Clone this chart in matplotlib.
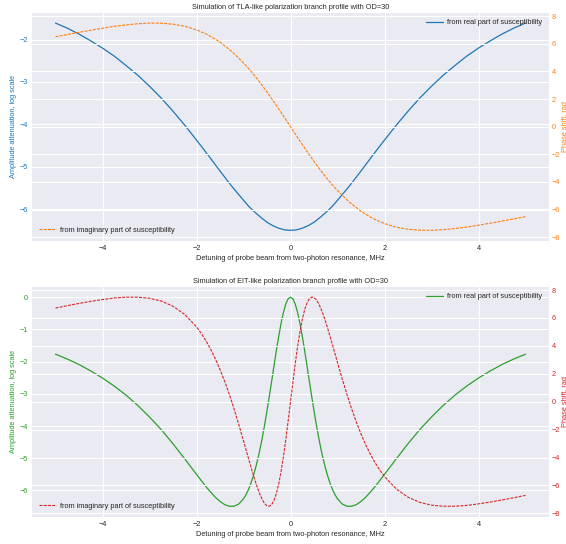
import matplotlib
matplotlib.use("Agg")
import matplotlib.pyplot as plt

# ---------------- data: TLA-like (top) ----------------
x_tla = [-5.0, -4.75, -4.5, -4.25, -4.0, -3.75, -3.5, -3.25, -3.0, -2.75, -2.5,
         -2.25, -2.0, -1.75, -1.5, -1.25, -1.0, -0.875, -0.75, -0.625, -0.5,
         -0.375, -0.25, -0.125, 0.0, 0.125, 0.25, 0.375, 0.5, 0.625, 0.75,
         0.875, 1.0, 1.25, 1.5, 1.75, 2.0, 2.25, 2.5,
         2.75, 3.0, 3.25, 3.5, 3.75, 4.0, 4.25, 4.5, 4.75, 5.0]
atten_tla = [-1.61, -1.73, -1.87, -2.03, -2.20, -2.39, -2.61, -2.84, -3.10, -3.38, -3.69,
             -4.02, -4.37, -4.73, -5.10, -5.46, -5.79, -5.95, -6.08, -6.20, -6.31,
             -6.39, -6.45, -6.49, -6.50, -6.49, -6.45, -6.39, -6.31, -6.20, -6.08,
             -5.95, -5.79, -5.46, -5.10, -4.73, -4.37, -4.02, -3.69,
             -3.38, -3.10, -2.84, -2.61, -2.39, -2.20, -2.03, -1.87, -1.73, -1.61]
phase_tla = [6.51, 6.67, 6.83, 6.98, 7.13, 7.26, 7.37, 7.45, 7.50, 7.49, 7.42,
             7.27, 7.01, 6.64, 6.12, 5.45, 4.62, 4.15, 3.64, 3.09, 2.51,
             1.91, 1.28, 0.65, 0.00, -0.65, -1.28, -1.91, -2.51, -3.09, -3.64,
             -4.15, -4.62, -5.45, -6.12, -6.64, -7.01, -7.27, -7.42,
             -7.49, -7.50, -7.45, -7.37, -7.26, -7.13, -6.98, -6.83, -6.67, -6.51]

# ---------------- data: EIT-like (bottom) ----------------
x_eit = [-5.0, -4.75, -4.5, -4.25, -4.0, -3.75, -3.5, -3.25, -3.0, -2.75, -2.5, -2.25,
         -2.0, -1.9, -1.8, -1.7, -1.6, -1.5, -1.4, -1.3, -1.2, -1.1, -1.0,
         -0.95, -0.9, -0.85, -0.8, -0.75, -0.7, -0.65, -0.6, -0.55, -0.5,
         -0.45, -0.4, -0.35, -0.3, -0.25, -0.2, -0.15, -0.1, -0.05, 0.0,
         0.05, 0.1, 0.15, 0.2, 0.25, 0.3, 0.35, 0.4, 0.45, 0.5,
         0.55, 0.6, 0.65, 0.7, 0.75, 0.8, 0.85, 0.9, 0.95, 1.0,
         1.1, 1.2, 1.3, 1.4, 1.5, 1.6, 1.7, 1.8, 1.9, 2.0,
         2.25, 2.5, 2.75, 3.0, 3.25, 3.5, 3.75, 4.0, 4.25, 4.5, 4.75, 5.0]
atten_eit = [-1.77, -1.92, -2.09, -2.29, -2.51, -2.76, -3.04, -3.36, -3.72, -4.11, -4.55, -5.02,
             -5.50, -5.69, -5.88, -6.05, -6.21, -6.34, -6.44, -6.49, -6.49, -6.42, -6.26,
             -6.14, -5.99, -5.81, -5.59, -5.34, -5.05, -4.73, -4.36, -3.96, -3.53,
             -3.07, -2.60, -2.12, -1.65, -1.21, -0.81, -0.47, -0.21, -0.05, 0.00,
             -0.05, -0.21, -0.47, -0.81, -1.21, -1.65, -2.12, -2.60, -3.07, -3.53,
             -3.96, -4.36, -4.73, -5.05, -5.34, -5.59, -5.81, -5.99, -6.14, -6.26,
             -6.42, -6.49, -6.49, -6.44, -6.34, -6.21, -6.05, -5.88, -5.69, -5.50,
             -5.02, -4.55, -4.11, -3.72, -3.36, -3.04, -2.76, -2.51, -2.29, -2.09, -1.92, -1.77]
phase_eit = [6.71, 6.88, 7.04, 7.19, 7.32, 7.43, 7.49, 7.49, 7.41, 7.21, 6.84, 6.25,
             5.36, 4.90, 4.37, 3.77, 3.08, 2.31, 1.45, 0.51, -0.53, -1.64, -2.80,
             -3.40, -3.99, -4.58, -5.15, -5.69, -6.20, -6.64, -7.02, -7.30, -7.46,
             -7.49, -7.37, -7.06, -6.57, -5.88, -4.99, -3.92, -2.71, -1.38, 0.00,
             1.38, 2.71, 3.92, 4.99, 5.88, 6.57, 7.06, 7.37, 7.49, 7.46,
             7.30, 7.02, 6.64, 6.20, 5.69, 5.15, 4.58, 3.99, 3.40, 2.80,
             1.64, 0.53, -0.51, -1.45, -2.31, -3.08, -3.77, -4.37, -4.90, -5.36,
             -6.25, -6.84, -7.21, -7.41, -7.49, -7.49, -7.43, -7.32, -7.19, -7.04, -6.88, -6.71]

titles = ["Simulation of TLA-like polarization branch profile with OD=30",
          "Simulation of EIT-like polarization branch profile with OD=30"]
xlabel = "Detuning of probe beam from two-photon resonance, MHz"
ylabel_left = "Amplitude attenuation, log scale"
ylabel_right = "Phase shift, rad"
label_real = "from real part of susceptibility"
label_imag = "from imaginary part of susceptibility"
left_ticks = [[-6, -5, -4, -3, -2], [-6, -5, -4, -3, -2, -1, 0]]
right_ticks = [-8, -6, -4, -2, 0, 2, 4, 6, 8]
xticks = [-4, -2, 0, 2, 4]

plt.style.use("seaborn-v0_8-darkgrid")
plt.rcParams["font.family"] = ["Liberation Sans", "DejaVu Sans"]
FS = 5.3

fig = plt.figure(figsize=(5.66, 5.44), dpi=100)
W, H = 566.0, 544.0
boxes = [(32, 12.7, 549, 240.7), (32, 286.7, 549, 516.7)]
series = [(x_tla, atten_tla, phase_tla, "tab:blue", "tab:orange"),
          (x_eit, atten_eit, phase_eit, "tab:green", "tab:red")]

for i, ((l, t, r, b), (xs, a, p, c1, c2)) in enumerate(zip(boxes, series)):
    ax = fig.add_axes([l / W, 1 - b / H, (r - l) / W, (b - t) / H])
    ax.plot(xs, a, color=c1, lw=0.9, label=label_real)
    ax.set_title(titles[i], fontsize=FS, pad=2.5, color=".15")
    ax.set_xlabel(xlabel, fontsize=FS, labelpad=2.5)
    ax.set_ylabel(ylabel_left, fontsize=FS, color=c1, labelpad=1.5)
    ax.set_xticks(xticks)
    ax.set_yticks(left_ticks[i])
    ax.tick_params(axis="x", labelsize=FS, pad=3)
    ax.tick_params(axis="y", labelsize=FS, labelcolor=c1, pad=3)
    ax.legend(loc="upper right", fontsize=FS, frameon=False,
              handlelength=2.3, handletextpad=0.6)

    ax2 = ax.twinx()
    ax2.plot(xs, p, color=c2, lw=0.8, dashes=(2.7, 1.1), label=label_imag)
    ax2.set_yticks(right_ticks)
    ax2.tick_params(axis="y", labelsize=FS, labelcolor=c2, pad=2)
    ax2.legend(loc="lower left", fontsize=FS, frameon=False,
               handlelength=2.3, handletextpad=0.6)
    fig.text(561.5 / W, 1 - ((t + b) / 2) / H, ylabel_right, rotation=90,
             fontsize=FS, color=c2, ha="left", va="center")

fig.savefig("out.png", dpi=100)
